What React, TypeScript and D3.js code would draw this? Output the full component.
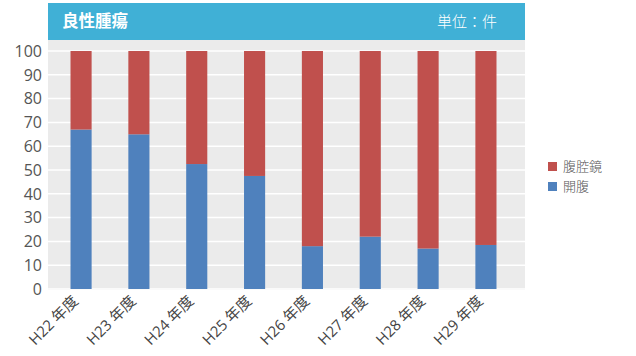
import React from "react";
import * as d3 from "d3";

const categories = ["H22 年度", "H23 年度", "H24 年度", "H25 年度", "H26 年度", "H27 年度", "H28 年度", "H29 年度"];
const openValues = [67, 65, 52.5, 47.5, 18, 22, 17, 18.5];
const laparoValues = [33, 35, 47.5, 52.5, 82, 78, 83, 81.5];
const seriesNames = ["開腹", "腹腔鏡"];
const seriesColors = ["#4f81bd", "#c0504d"];
const yTicks = [0, 10, 20, 30, 40, 50, 60, 70, 80, 90, 100];
const title = "良性腫瘍";
const unitLabel = "単位：件";

const W = 636;
const H = 356;
const plot = { left: 48, right: 525, top: 40, bottom: 290 };
const font = "'Open Sans', 'Noto Sans CJK JP', sans-serif";
const cjk = "'Noto Sans CJK JP', sans-serif";

export default function App() {
  const x = d3.scaleBand<string>().domain(categories).range([52, 515]).paddingInner(0.635).paddingOuter(0.32);
  const y = d3.scaleLinear().domain([0, 100]).range([289, 51]);

  const table = categories.map((c, i) => ({ cat: c, open: openValues[i], laparo: laparoValues[i] }));
  const stack = d3.stack<any>().keys(["open", "laparo"])(table);

  return (
    <svg width={W} height={H} style={{ position: "absolute", left: 0, top: 0, display: "block" }} fontFamily={font}>
      <rect x={0} y={0} width={W} height={H} fill="#ffffff" />
      <rect x={plot.left} y={plot.top} width={plot.right - plot.left} height={plot.bottom - plot.top} fill="#ebebeb" />
      {yTicks.map((t) => (
        <g key={t}>
          <line x1={plot.left} x2={plot.right} y1={y(t)} y2={y(t)} stroke="#ffffff" strokeWidth={1.5} />
          <text x={42} y={y(t)} dy="0.36em" textAnchor="end" fontSize={16} fill="#555">
            {t}
          </text>
        </g>
      ))}
      {stack.map((s, si) => (
        <g key={si} fill={seriesColors[si]}>
          {s.map((d, i) => (
            <rect
              key={i}
              x={x(categories[i])!}
              width={x.bandwidth()}
              y={y(d[1])}
              height={y(d[0]) - y(d[1])}
            />
          ))}
        </g>
      ))}
      {categories.map((c) => {
        const cx = x(c)! + x.bandwidth() / 2;
        return (
          <text
            key={c}
            transform={`translate(${cx - 2},${302}) rotate(-45)`}
            textAnchor="end"
            fontSize={15}
            fill="#444"
          >
            {c}
          </text>
        );
      })}
      <rect x={plot.left} y={3} width={plot.right - plot.left} height={37} fill="#40b0d6" />
      <text x={62} y={27} fill="#fff" fontSize={16.5} fontWeight={700} fontFamily={cjk}>
        {title}
      </text>
      <text x={497} y={27} fill="#fff" fontSize={15} textAnchor="end" fontFamily={cjk} fontWeight={300}>
        {unitLabel}
      </text>
      {[1, 0].map((si, k) => (
        <g key={si} transform={`translate(548,${162 + k * 20})`}>
          <rect width={9} height={9} fill={seriesColors[si]} />
          <text x={15} y={4.5} dy="0.36em" fontSize={13} fill="#555" fontFamily={cjk} fontWeight={300}>
            {seriesNames[si]}
          </text>
        </g>
      ))}
    </svg>
  );
}
